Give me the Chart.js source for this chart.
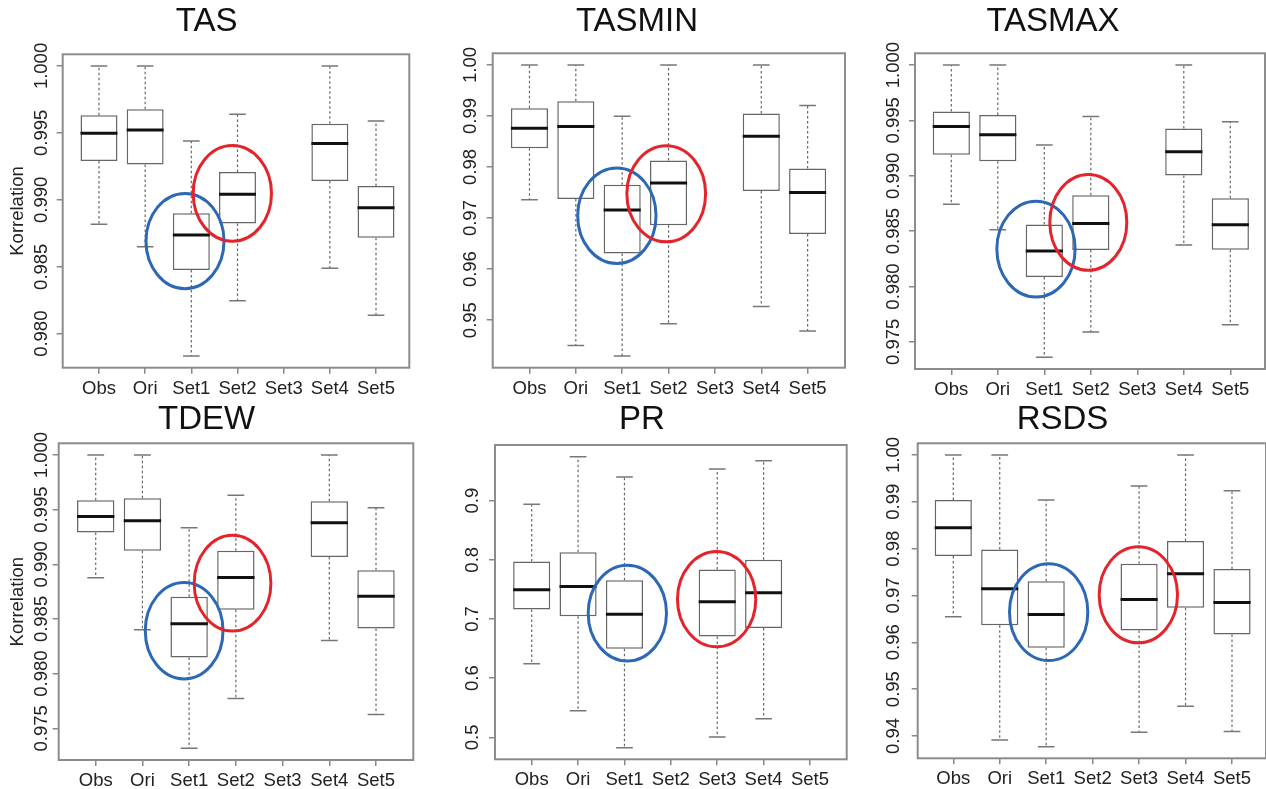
<!DOCTYPE html>
<html>
<head>
<meta charset="utf-8">
<script src="https://cdn.jsdelivr.net/npm/chart.js@4.4.0/dist/chart.umd.min.js"></script>
<style>
html, body { margin: 0; padding: 0; background: #fff; overflow: hidden; }
body { width: 1266px; height: 789px; position: relative; }
canvas { position: absolute; }
</style>
</head>
<body>
<script>
// Boxplots of correlations for six variables

const categories = ['Obs', 'Ori', 'Set1', 'Set2', 'Set3', 'Set4', 'Set5'];

// per category: [lower whisker, Q1, median, Q3, upper whisker], null = no box
const tasStats = [
    [0.98817, 0.99290, 0.99497, 0.99631, 1.000],
    [0.98650, 0.99263, 0.99522, 0.99676, 1.000],
    [0.97833, 0.98476, 0.98737, 0.98899, 0.99440],
    [0.98246, 0.98824, 0.99041, 0.99208, 0.99639],
    null,
    [0.98488, 0.99141, 0.99420, 0.99569, 1.000],
    [0.98137, 0.98717, 0.98941, 0.99103, 0.99589]
];
const tasminStats = [
    [0.97360, 0.98370, 0.98761, 0.99153, 1.000],
    [0.94504, 0.97373, 0.98794, 0.99289, 1.000],
    [0.94296, 0.96304, 0.97158, 0.97653, 0.98996],
    [0.94928, 0.96858, 0.97686, 0.98129, 1.000],
    null,
    [0.95267, 0.97529, 0.98605, 0.99048, 1.000],
    [0.94785, 0.96688, 0.97503, 0.97973, 0.99205]
];
const tasmaxStats = [
    [0.98742, 0.99189, 0.99445, 0.99581, 1.000],
    [0.98513, 0.99131, 0.99370, 0.99548, 1.000],
    [0.97361, 0.98085, 0.98320, 0.98561, 0.99279],
    [0.97590, 0.98329, 0.98570, 0.98824, 0.99536],
    null,
    [0.98374, 0.99002, 0.99216, 0.99427, 1.000],
    [0.97654, 0.98332, 0.98558, 0.98797, 0.99487]
];
const tdewStats = [
    [0.98876, 0.99292, 0.99438, 0.99587, 1.000],
    [0.98402, 0.99125, 0.99398, 0.99605, 1.000],
    [0.97317, 0.98147, 0.98457, 0.98703, 0.99335],
    [0.97773, 0.98584, 0.98879, 0.99125, 0.99632],
    null,
    [0.98302, 0.99067, 0.99380, 0.99578, 1.000],
    [0.97627, 0.98414, 0.98709, 0.98946, 0.99517]
];
const prStats = [
    [0.62433, 0.71603, 0.74922, 0.79704, 0.89381],
    [0.54500, 0.70478, 0.75485, 0.81280, 0.97426],
    [0.48255, 0.64964, 0.70815, 0.76554, 0.93994],
    null,
    [0.50055, 0.67046, 0.72897, 0.78354, 0.95345],
    [0.53150, 0.68452, 0.74416, 0.79986, 0.96751],
    null
];
const rsdsStats = [
    [0.96544, 0.97841, 0.98447, 0.99038, 1.000],
    [0.93914, 0.96366, 0.97142, 0.97983, 1.000],
    [0.93772, 0.95881, 0.96594, 0.97306, 0.99038],
    null,
    [0.94078, 0.96252, 0.96914, 0.97677, 0.99337],
    [0.94634, 0.96736, 0.97463, 0.98162, 1.000],
    [0.94093, 0.96166, 0.96850, 0.97563, 0.99238]
];

// y tick labels
const ticks3 = ['0.980', '0.985', '0.990', '0.995', '1.000'];
const ticksMin = ['0.95', '0.96', '0.97', '0.98', '0.99', '1.00'];
const ticks4 = ['0.975', '0.980', '0.985', '0.990', '0.995', '1.000'];
const ticksPr = ['0.5', '0.6', '0.7', '0.8', '0.9'];
const ticksRsds = ['0.94', '0.95', '0.96', '0.97', '0.98', '0.99', '1.00'];

// axis ranges
const tasY = [0.97746, 1.00087];
const tasminY = [0.94068, 1.00228];
const tasmaxY = [0.97255, 1.00106];
const tdewY = [0.97210, 1.00107];
const prY = [0.46288, 0.99393];
const rsdsY = [0.93523, 1.00249];

// highlight rings: [category position, value, half width (categories), half height (value)]
const tasRings = { blue: [1.863, 0.98692, 0.845, 0.00356], red: [2.888, 0.99048, 0.848, 0.00358] };
const tasminRings = { blue: [1.885, 0.97047, 0.845, 0.00936], red: [2.950, 0.97477, 0.849, 0.00942] };
const tasmaxRings = { blue: [1.821, 0.98338, 0.842, 0.00433], red: [2.946, 0.98579, 0.828, 0.00433] };
const tdewRings = { blue: [1.893, 0.98393, 0.832, 0.00441], red: [2.929, 0.98827, 0.821, 0.00438] };
const prRings = { blue: [2.062, 0.70984, 0.844, 0.0810], red: [3.987, 0.73347, 0.844, 0.0805] };
const rsdsRings = { blue: [2.053, 0.96644, 0.843, 0.01033], red: [3.984, 0.97014, 0.843, 0.01026] };

const RING_COLORS = { blue: '#2c68b4', red: '#e3242b' };
const FONT = '"Liberation Sans", Arial, sans-serif';
const TITLE_SIZE = 33;
const TITLE_LH = TITLE_SIZE * 1.2;
const TICK_SIZE = 18.5;
const TICK_LEN = 6;

// page layout: plot frame [left, top, right, bottom], title centre, x range
const layouts = [
    { box: [62.7, 54.3, 409.3, 367.7], titleX: 232, titleY: 21.5, xr: [-0.786, 6.721], off: 21 },
    { box: [492.7, 53.3, 845, 367.7], titleX: 638, titleY: 21.5, xr: [-0.793, 6.806], off: 21.6 },
    { box: [915, 53.3, 1265, 369], titleX: 1054, titleY: 21.5, xr: [-0.781, 6.746], off: 20.7 },
    { box: [58.7, 443.3, 413.3, 760], titleX: 244.5, titleY: 420.3, xr: [-0.792, 6.798], off: 17 },
    { box: [495, 445, 846.7, 759.3], titleX: 655, titleY: 420.3, xr: [-0.791, 6.791], off: 21.7 },
    { box: [917.7, 443.3, 1266, 758.3], titleX: 1073.7, titleY: 420.3, xr: [-0.766, 6.732], off: 23.4 }
];

function textWidth(text, size) {
    const c = document.createElement('canvas').getContext('2d');
    c.font = size + 'px ' + FONT;
    return c.measureText(text).width;
}

// whiskers, caps, medians, rings and frame drawn through the chart scales
const boxParts = {
    id: 'boxParts',
    afterDatasetsDraw(chart, args, opts) {
        const { ctx, chartArea: a, scales: { x, y } } = chart;
        const unit = x.getPixelForValue(1) - x.getPixelForValue(0);
        ctx.save();
        opts.stats.forEach((s, i) => {
            if (!s) return;
            const [lo, q1, med, q3, hi] = s;
            const cx = x.getPixelForValue(i);
            // dashed whiskers
            ctx.strokeStyle = '#666';
            ctx.lineWidth = 1.2;
            ctx.setLineDash([2.5, 2.5]);
            ctx.beginPath();
            ctx.moveTo(cx, y.getPixelForValue(q3));
            ctx.lineTo(cx, y.getPixelForValue(hi));
            ctx.moveTo(cx, y.getPixelForValue(q1));
            ctx.lineTo(cx, y.getPixelForValue(lo));
            ctx.stroke();
            ctx.setLineDash([]);
            // caps
            ctx.strokeStyle = '#777';
            ctx.lineWidth = 1.5;
            ctx.beginPath();
            [lo, hi].forEach(v => {
                const py = y.getPixelForValue(v);
                ctx.moveTo(cx - 0.18 * unit, py);
                ctx.lineTo(cx + 0.18 * unit, py);
            });
            ctx.stroke();
            // median
            ctx.strokeStyle = '#111';
            ctx.lineWidth = 3;
            ctx.beginPath();
            const my = y.getPixelForValue(med);
            ctx.moveTo(cx - 0.4 * unit, my);
            ctx.lineTo(cx + 0.4 * unit, my);
            ctx.stroke();
        });
        // rings
        Object.keys(opts.rings).forEach(k => {
            const [xc, yc, hw, hh] = opts.rings[k];
            const px = x.getPixelForValue(xc);
            const py = y.getPixelForValue(yc);
            const ry = Math.abs(y.getPixelForValue(yc + hh) - py);
            ctx.strokeStyle = RING_COLORS[k];
            ctx.lineWidth = 3;
            ctx.beginPath();
            ctx.ellipse(px, py, hw * unit, ry, 0, 0, Math.PI * 2);
            ctx.stroke();
        });
        // frame
        ctx.strokeStyle = '#8c8c8c';
        ctx.lineWidth = 2;
        ctx.strokeRect(a.left, a.top, a.right - a.left, a.bottom - a.top);
        ctx.restore();
    }
};

function buildPanel(name, stats, tickLabels, yRange, rings, lay, yTitle) {
    const [L, T, R, B] = lay.box;
    const left = Math.floor(Math.min(L - 58, 2 * lay.titleX - R - 2));
    const width = Math.round(2 * (lay.titleX - left));
    const top = Math.floor(lay.titleY - TITLE_LH / 2 - 2);
    const padTop = lay.titleY - TITLE_LH / 2 - top;
    const padBottom = T - top - padTop - TITLE_LH;
    const height = Math.round(B - top + 40);
    const xAxisH = height - (B - top);
    const yW = L - left;
    const padRight = left + width - R;
    const widest = Math.max(...tickLabels.map(t => textWidth(t, TICK_SIZE)));
    const yPad = lay.off - TICK_LEN - widest / 2;

    const canvas = document.createElement('canvas');
    canvas.width = width;
    canvas.height = height;
    canvas.style.left = left + 'px';
    canvas.style.top = top + 'px';
    canvas.style.width = width + 'px';
    canvas.style.height = height + 'px';
    document.body.appendChild(canvas);

    const boxes = [];
    stats.forEach((s, i) => { if (s) boxes.push({ x: i, y: [s[1], s[3]] }); });

    new Chart(canvas, {
        type: 'bar',
        data: {
            datasets: [{
                data: boxes,
                backgroundColor: '#ffffff',
                borderColor: '#666666',
                borderWidth: 1.5,
                borderSkipped: false,
                barPercentage: 0.8,
                categoryPercentage: 1
            }]
        },
        plugins: [boxParts],
        options: {
            responsive: false,
            animation: false,
            devicePixelRatio: 1,
            layout: { padding: { left: 0, top: 0, bottom: 0, right: padRight } },
            plugins: {
                legend: { display: false },
                tooltip: { enabled: false },
                title: {
                    display: true,
                    text: name,
                    color: '#111',
                    font: { family: FONT, size: TITLE_SIZE, weight: 'normal' },
                    padding: { top: padTop, bottom: padBottom }
                },
                boxParts: { stats: stats, rings: rings }
            },
            scales: {
                x: {
                    type: 'linear',
                    min: lay.xr[0],
                    max: lay.xr[1],
                    offset: false,
                    bounds: 'data',
                    afterBuildTicks: ax => { ax.ticks = categories.map((c, i) => ({ value: i })); },
                    afterFit: ax => { ax.height = xAxisH; },
                    ticks: {
                        callback: (v, i) => categories[i],
                        autoSkip: false,
                        maxRotation: 0,
                        padding: 4,
                        color: '#222',
                        font: { family: FONT, size: TICK_SIZE }
                    },
                    grid: { drawOnChartArea: false, offset: false, tickLength: TICK_LEN, color: '#888', lineWidth: 1.5 },
                    border: { display: false }
                },
                y: {
                    type: 'linear',
                    min: yRange[0],
                    max: yRange[1],
                    bounds: 'data',
                    beginAtZero: false,
                    afterBuildTicks: ax => { ax.ticks = tickLabels.map(t => ({ value: parseFloat(t) })); },
                    afterFit: ax => { ax.width = yW; },
                    ticks: {
                        callback: (v, i) => tickLabels[i],
                        minRotation: 90,
                        maxRotation: 90,
                        crossAlign: 'center',
                        padding: yPad,
                        color: '#222',
                        font: { family: FONT, size: TICK_SIZE }
                    },
                    grid: { drawOnChartArea: false, tickLength: TICK_LEN, color: '#888', lineWidth: 1.5 },
                    border: { display: false },
                    title: {
                        display: yTitle,
                        text: 'Korrelation',
                        color: '#222',
                        font: { family: FONT, size: TICK_SIZE },
                        padding: { top: 17.5 - left - TICK_SIZE * 0.6, bottom: 0 }
                    }
                }
            }
        }
    });
}

buildPanel('TAS', tasStats, ticks3, tasY, tasRings, layouts[0], true);
buildPanel('TASMIN', tasminStats, ticksMin, tasminY, tasminRings, layouts[1], false);
buildPanel('TASMAX', tasmaxStats, ticks4, tasmaxY, tasmaxRings, layouts[2], false);
buildPanel('TDEW', tdewStats, ticks4, tdewY, tdewRings, layouts[3], true);
buildPanel('PR', prStats, ticksPr, prY, prRings, layouts[4], false);
buildPanel('RSDS', rsdsStats, ticksRsds, rsdsY, rsdsRings, layouts[5], false);
</script>
</body>
</html>
